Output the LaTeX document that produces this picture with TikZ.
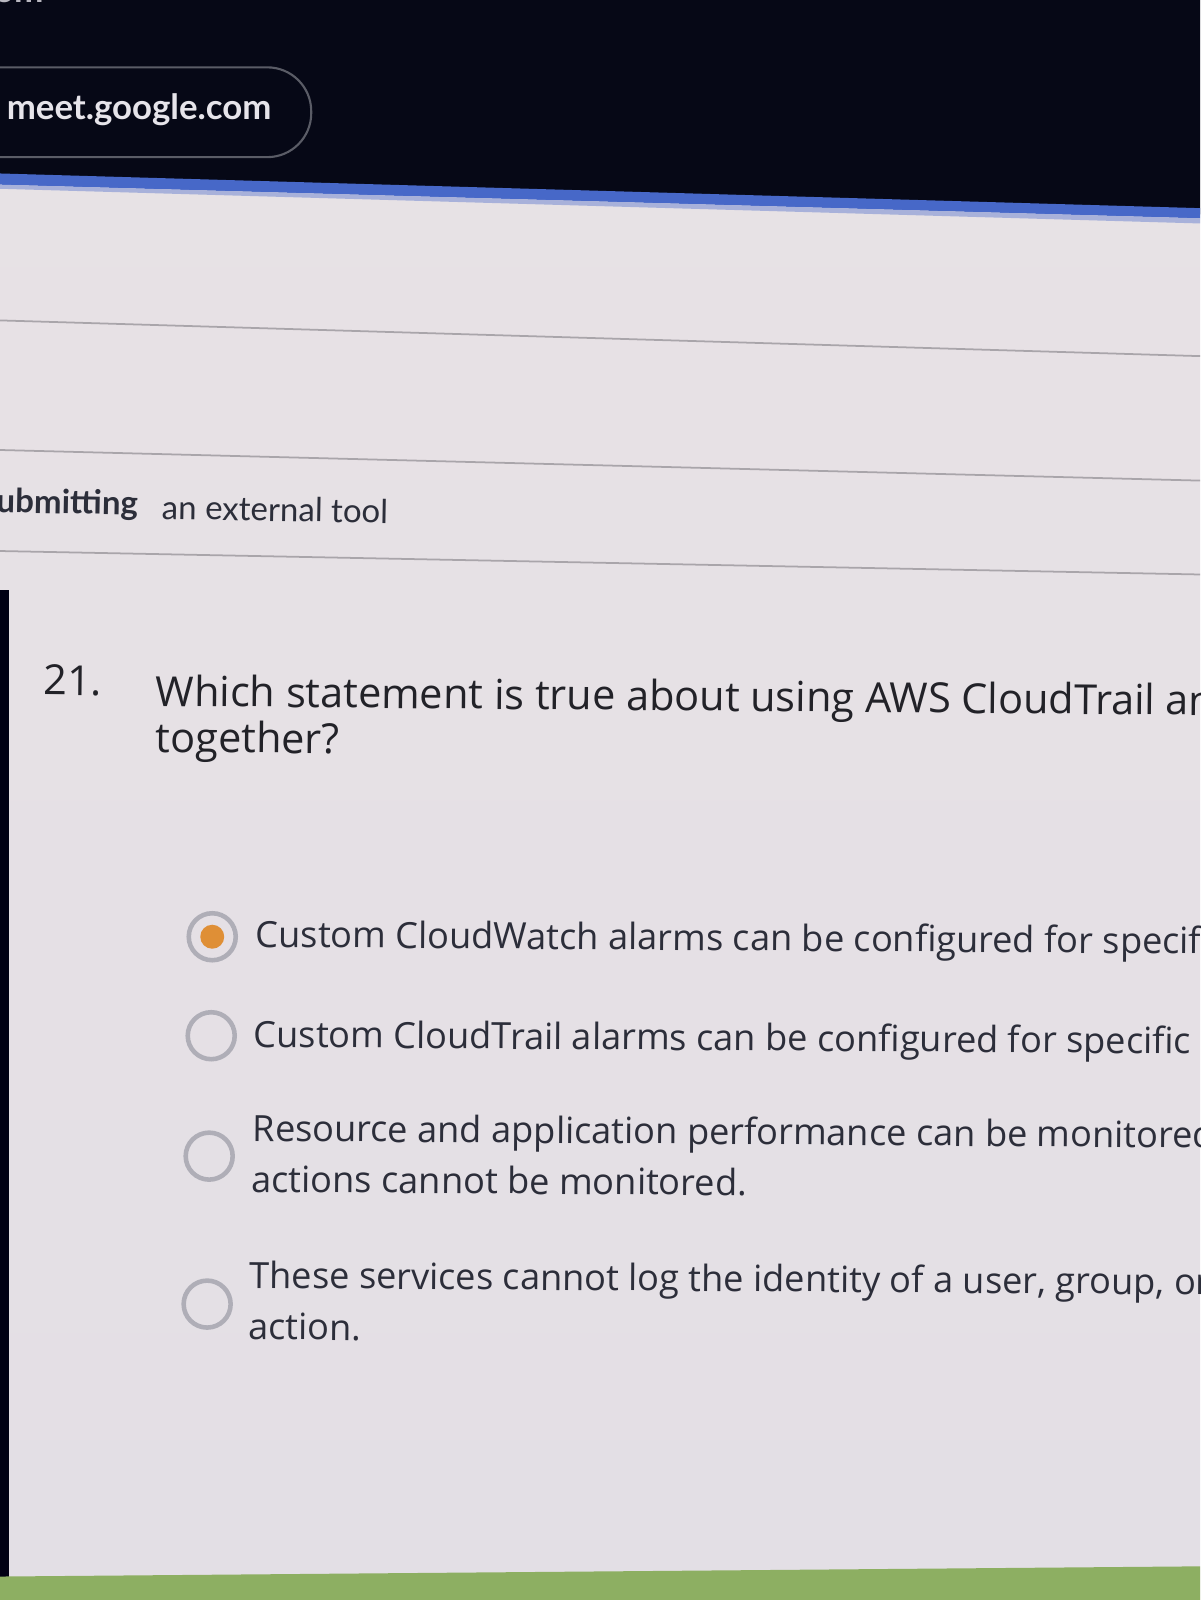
\documentclass[tikz,border=0pt]{standalone}
\usepackage{fontspec}
\setmainfont{Open Sans}
\newfontfamily\latofont{Lato}
\newfontfamily\qfont{Open Sans}
\definecolor{darktop}{HTML}{060816}
\definecolor{bandblue}{HTML}{4768C8}
\definecolor{pagebg}{HTML}{E8E2E5}
\definecolor{pagebgb}{HTML}{E3DFE5}
\definecolor{rulegray}{HTML}{A9A5AA}
\definecolor{ringgray}{HTML}{AFAEB7}
\definecolor{dotorange}{HTML}{DF8F36}
\definecolor{txtdark}{HTML}{2C2E3A}
\definecolor{txtq}{HTML}{222228}
\definecolor{greenband}{HTML}{8DAF62}
\definecolor{pillgray}{HTML}{5A5C66}
\definecolor{urlwhite}{HTML}{E6E4EA}
\tikzset{
  radio/.style={circle, draw=ringgray, line width=1.3pt, minimum size=0.47cm, inner sep=0pt},
  radiodot/.style={circle, fill=dotorange, minimum size=0.24cm, inner sep=0pt},
  opttext/.style={anchor=west, inner sep=0pt, text=txtdark, font=\qfont\fontsize{10.3}{12}\selectfont, rotate=-0.4},
  qtext/.style={anchor=base west, inner sep=0pt, text=txtq, font=\qfont\fontsize{11.8}{14}\selectfont, rotate=-0.5},
  canvastext/.style={anchor=west, inner sep=0pt, text=txtdark, font=\latofont\fontsize{9.4}{11}\selectfont, rotate=-1},
  hrule/.style={draw=rulegray, line width=0.5pt}
}
\begin{document}
\begin{tikzpicture}[x=0.0102041cm, y=-0.0102041cm]
\useasboundingbox (0,0) rectangle (1176,1568);
\clip (0,0) rectangle (1176,1568);
% page background
\shade[top color=pagebg, bottom color=pagebgb] (0,0) rectangle (1176,1568);
% dark browser bar
\fill[darktop] (0,0) -- (1176,0) -- (1176,210) -- (0,176) -- cycle;
% blue band under bar
\fill[bandblue] (0,170) -- (1176,204) -- (1176,214) -- (0,181) -- cycle;
\fill[bandblue!40!pagebg] (0,181) -- (1176,214) -- (1176,219) -- (0,185) -- cycle;
% partial text at very top
\node[anchor=west, inner sep=0pt, text=urlwhite!80!darktop, font=\latofont\bfseries\fontsize{10}{12}\selectfont] (topcut) at (-6,-6) {om};
% url pill
\draw[pillgray, line width=0.6pt, rounded corners=12.5pt] (-60,66) rectangle (305,154);
\node[anchor=west, inner sep=0pt, text=urlwhite, font=\latofont\bfseries\fontsize{9.9}{12}\selectfont] (url) at (6,108) {meet.google.com};
% horizontal rules
\draw[hrule] (0,314) -- (1176,349);
\draw[hrule] (0,441) -- (1176,471);
\draw[hrule] (0,540) -- (1176,563);
% submitting row
\node[canvastext, font=\latofont\bfseries\fontsize{9.4}{11}\selectfont] (sub) at (-4,493) {ubmitting};
\node[canvastext] (ext) at (158,497) {an external tool};
% black bar on left
\fill[black!92!blue] (0,578) rectangle (9,1545);
% question
\node[qtext] (qnum) at (42,681) {21.};
\node[qtext] (q1) at (152,692) {Which statement is true about using AWS CloudTrail and};
\node[qtext] (q2) at (152,737) {together?};
% options
\node[radio] (r1) at (208,918) {};
\node[radiodot] (d1) at (r1.center) {};
\node[opttext] (o1) at (250,919) {Custom CloudWatch alarms can be configured for specific};
\node[radio] (r2) at (207,1015) {};
\node[opttext] (o2) at (248,1017) {Custom CloudTrail alarms can be configured for specific};
\node[radio] (r3) at (205,1133) {};
\node[opttext] (o3a) at (247,1109) {Resource and application performance can be monitored};
\node[opttext] (o3b) at (246,1155) {actions cannot be monitored.};
\node[radio] (r4) at (203,1278) {};
\node[opttext] (o4a) at (244,1253) {These services cannot log the identity of a user, group, or};
\node[opttext] (o4b) at (243,1300) {action.};
% green band at bottom
\fill[greenband] (0,1545) -- (1176,1535) -- (1176,1568) -- (0,1568) -- cycle;
\end{tikzpicture}
\end{document}
